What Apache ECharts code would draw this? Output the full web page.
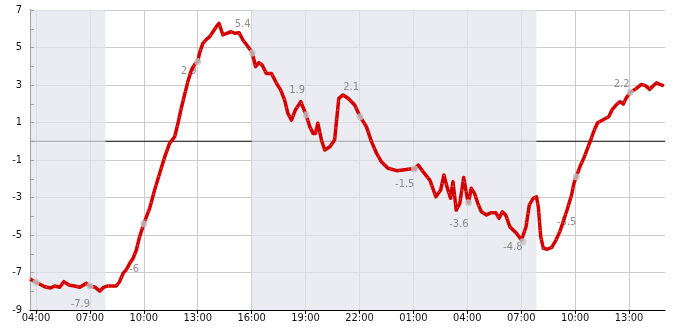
<!DOCTYPE html>
<html><head><meta charset="utf-8">
<script src="https://cdn.jsdelivr.net/npm/echarts@6/dist/echarts.min.js"></script>
<style>html,body{margin:0;padding:0;background:#fff}#c{width:685px;height:330px}</style>
</head><body><div id="c"></div><script>
// ---- data ----
const lineTimes = ['03:40','04:00','04:29','04:49','05:02','05:19','05:33','05:52','06:09','06:26','06:48','07:00','07:18','07:33','07:44','07:58','08:28','08:39','08:51','09:02','09:13','09:24','09:35','09:46','09:54','10:00','10:20','10:36','10:53','11:10','11:26','11:43','11:54','12:05','12:16','12:27','12:39','12:52','13:00','13:06','13:17','13:29','13:40','13:51','14:02','14:11','14:24','14:38','14:52','15:03','15:18','15:31','15:48','16:02','16:13','16:24','16:35','16:49','17:06','17:23','17:37','17:50','18:01','18:13','18:26','18:44','19:02','19:14','19:25','19:33','19:41','19:53','20:04','20:21','20:37','20:51','21:05','21:22','21:44','22:02','22:23','22:40','22:57','23:13','23:35','00:04','00:25','00:48','01:04','01:16','01:32','01:55','02:15','02:31','02:42','02:52','03:04','03:12','03:23','03:35','03:48','03:59','04:04','04:13','04:24','04:35','04:47','05:04','05:20','05:35','05:46','05:57','06:08','06:22','06:44','07:01','07:05','07:16','07:27','07:40','07:51','07:57','08:05','08:14','08:27','08:42','08:56','09:09','09:20','09:33','09:48','09:56','10:04','10:16','10:31','10:50','11:04','11:15','11:32','11:52','12:03','12:19','12:30','12:41','12:50','13:04','13:25','13:41','13:56','14:09','14:20','14:32','14:43','14:56'];
const lineValues = [-7.35,-7.52,-7.76,-7.83,-7.72,-7.79,-7.49,-7.68,-7.72,-7.79,-7.58,-7.72,-7.79,-7.99,-7.81,-7.72,-7.72,-7.49,-7.04,-6.83,-6.51,-6.24,-5.80,-5.09,-4.70,-4.40,-3.55,-2.60,-1.71,-0.82,-0.11,0.24,0.96,1.76,2.47,3.18,3.80,4.15,4.24,4.70,5.22,5.43,5.58,5.84,6.11,6.29,5.67,5.76,5.84,5.76,5.79,5.40,5.04,4.72,3.98,4.19,4.07,3.62,3.62,3.09,2.73,2.20,1.49,1.13,1.67,2.11,1.40,0.78,0.42,0.42,0.96,0.07,-0.47,-0.29,0.07,2.29,2.47,2.29,1.93,1.31,0.78,-0.02,-0.64,-1.09,-1.44,-1.57,-1.53,-1.48,-1.48,-1.27,-1.62,-2.07,-2.96,-2.60,-1.80,-2.42,-3.04,-2.16,-3.67,-3.31,-1.93,-2.96,-3.28,-2.51,-2.78,-3.31,-3.76,-3.93,-3.81,-3.81,-4.11,-3.76,-3.93,-4.56,-4.91,-5.27,-5.36,-4.56,-3.40,-3.04,-2.96,-3.49,-5.09,-5.71,-5.76,-5.66,-5.27,-4.82,-4.29,-3.67,-2.87,-2.24,-1.89,-1.36,-0.82,-0.02,0.60,0.99,1.13,1.31,1.67,1.97,2.11,1.99,2.29,2.61,2.82,3.03,2.95,2.77,2.95,3.12,3.03,2.95];
const dotTimes = ['04:00','07:00','10:00','13:00','16:02','19:02','22:02','01:04','04:04','07:05','10:04','13:04'];
const dotValues = [-7.52,-7.72,-4.40,4.24,4.72,1.40,1.31,-1.48,-3.28,-5.36,-1.89,2.61];
const labelTexts = ['-7.9','-6','2.9','5.4','1.9','2.1','-1.5','-3.6','-4.8','-3.5','2.2'];
const labelTimes = ['06:28','09:28','12:30','15:30','18:32','21:32','00:31','03:32','06:32','09:32','12:35'];
const labelValues = [-8.68,-6.81,3.75,6.25,2.73,2.89,-2.28,-4.41,-5.63,-4.31,3.03];
const shadeStarts = ['0 03:40','0 16:00'];
const shadeEnds = ['0 07:52','1 07:51'];
const tickHours = [4,7,10,13,16,19,22,25,28,31,34,37];
const tickLabels = ['04:00','07:00','10:00','13:00','16:00','19:00','22:00','01:00','04:00','07:00','10:00','13:00'];
const xStart = '0 03:40', xEnd = '1 15:00';
const yMin = -9, yMax = 7, yStep = 2;

// ---- helpers ----
function seqHours(arr){ let day=0, prev=-1; return arr.map(s=>{const p=s.split(':').map(Number); const v=p[0]+p[1]/60; if(v<prev) day+=24; prev=v; return day+v;}); }
function dayHours(s){ const [d,t]=s.split(' '); const p=t.split(':').map(Number); return Number(d)*24+p[0]+p[1]/60; }
const FONT = "'DejaVu Sans Condensed','DejaVu Sans',sans-serif";
const X_MIN = dayHours(xStart), X_MAX = dayHours(xEnd);
const lx = seqHours(lineTimes), dx = seqHours(dotTimes), tx = seqHours(labelTimes);
const lineData = lx.map((x,i)=>[x,lineValues[i]]);

const chart = echarts.init(document.getElementById('c'), null, {renderer:'canvas'});
chart.setOption({
  animation:false,
  grid:{left:30,right:20,top:10,bottom:20,containLabel:false},
  xAxis:{type:'value',min:X_MIN,max:X_MAX,
    axisLine:{show:true,onZero:false,lineStyle:{color:'#000',width:1}},
    axisTick:{show:true,customValues:tickHours,length:4,lineStyle:{color:'#000'}},
    axisLabel:{customValues:tickHours,formatter:v=>tickLabels[tickHours.indexOf(Math.round(v))]||'',color:'#111',fontSize:11,fontFamily:FONT,margin:3},
    splitLine:{show:true,lineStyle:{color:'#cccccc',width:1}}},
  yAxis:{type:'value',min:yMin,max:yMax,interval:yStep,
    axisLine:{show:true,onZero:false,lineStyle:{color:'#000',width:1}},
    axisTick:{show:true,inside:true,length:4,lineStyle:{color:'#000'}},
    minorTick:{show:true,splitNumber:2,length:4,lineStyle:{color:'#000'}},
    axisLabel:{color:'#111',fontSize:11,fontFamily:FONT,margin:8},
    splitLine:{show:true,lineStyle:{color:'#cccccc',width:1}}},
  series:[
    {type:'line',name:'zero',data:[[X_MIN,0],[X_MAX,0]],symbol:'none',silent:true,z:1,
     lineStyle:{color:'#000',width:1}},
    {type:'line',name:'shade',data:[[X_MIN,0]],symbol:'none',silent:true,z:2,lineStyle:{opacity:0},
     markArea:{silent:true,z:2,itemStyle:{color:'rgba(226,228,235,0.7)'},
       data:shadeStarts.map((s,i)=>[{xAxis:dayHours(s)},{xAxis:dayHours(shadeEnds[i])}])}},
    {type:'scatter',name:'labels',data:tx.map((x,i)=>[x,labelValues[i]]),symbolSize:0,silent:true,z:3,
     label:{show:true,position:'inside',formatter:p=>labelTexts[p.dataIndex],color:'#707070',fontSize:11,fontFamily:FONT}},
    {type:'line',name:'temp',data:lineData,symbol:'none',z:4,silent:true,
     lineStyle:{color:'#d40000',width:3.5,join:'round'}},
    {type:'line',name:'tempTexture',data:lineData,symbol:'none',z:4.5,silent:true,
     lineStyle:{color:'rgba(255,255,255,0.7)',width:0.8,type:[1,8]}},
    {type:'scatter',name:'dots',data:dx.map((x,i)=>[x,dotValues[i]]),symbolSize:7,z:5,silent:true,
     itemStyle:{color:'#c4c4c4'}}
  ]
});
</script></body></html>
